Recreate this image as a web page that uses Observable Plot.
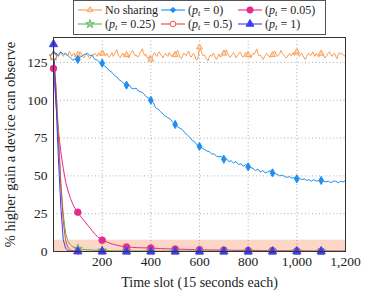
<!DOCTYPE html>
<html><head><meta charset="utf-8">
<script src="https://cdn.jsdelivr.net/npm/d3@7"></script>
<script src="https://cdn.jsdelivr.net/npm/@observablehq/plot@0.6"></script>
<style>
body{margin:0;background:#fff;}
#wrap{position:relative;width:366px;height:296px;font-family:"Liberation Serif",serif;}
#chart{position:absolute;left:0;top:0;}
#legend{position:absolute;left:73px;top:0px;width:253px;height:35px;border:1px solid #555;background:#fff;box-sizing:border-box;font-size:12px;color:#222;}
.item{position:absolute;display:flex;align-items:center;white-space:nowrap;height:14px;}
.item span{margin-left:3px;}
sub{font-size:8.5px;vertical-align:-2px;}
</style></head><body>
<div id="wrap"><div id="chart"></div><div id="legend"></div></div>
<script>
// time slots: fine sampling for the noisy baseline, every 10 slots for the others
const slotsFine = d3.range(0, 1201, 5);
const slots = d3.range(0, 1201, 10);
const xTicks = [200, 400, 600, 800, 1000, 1200];
const xGrid = [200, 400, 600, 800, 1000];
const yTicks = [0, 25, 50, 75, 100, 125];
const yGrid = [25, 50, 75, 100, 125];
const bandTop = 7.5;
const xLabel = "Time slot (15 seconds each)";
const yLabel = "% higher gain a device can observe";

const noSharing = [
129,130.5,131,129.5,130,131.5,132,130,129,130.5,131,129.5,130,132.5,131,129,130.5,131,128.5,129.5,
130,131.5,132,130.5,129,128,129.5,131,130,128.5,127.5,129,130.5,129.5,131,130,129,131.5,130,129.5,
131,132.5,130,129.5,131,129,128.5,130,131.5,129,130,132,133.5,130.5,129,128,130,131,129.5,130.5,
130,129,128,130.5,131.5,133,131,129.5,130,128.5,129,131,132.5,134,131,129.5,130.5,128,127.5,129.5,
127,128.5,130,131.5,130,129,131,132,130,129.5,128,129.5,131,130,129,131.5,130.5,129,130,131,
130,131.5,133,130.5,128.5,127.5,129,131,130.5,129.5,131,132.5,130,128.5,129.5,131,130,127,126.5,129,
135,133,131,129.5,130,128.5,127,126,128.5,130,129,131,130.5,128,127,129,130.5,128.5,129,130,
131,132,133.5,131,130,128.5,129,130.5,131.5,130,128,129.5,130.5,132,131,129,128.5,130,131.5,130.5,
130,129,128,129.5,131,130.5,132,134,131,129.5,130,128.5,127,128,129.5,131,130,129,128.5,129.5,
130,131.5,132.5,130.5,129,130,131,133,131.5,130,129,128,128.5,130,131,129.5,130,131.5,129.5,130.5,
132,130.5,129,130,131,129.5,128,127,129,130.5,131,129.5,130,132,130.5,129,131,129.5,128.5,130,
131,130,129.5,128,128.5,130,131.5,132,130,129,130.5,131,129,127.5,130,131.5,130.5,131,130,129.5,
129];
const pt0 = [
130,131.5,129,132,130.5,131,129.5,128,126.5,127.5,
127,128.5,129.5,130.5,131,129.5,129.5,127,126.5,125,
124.5,122.5,121.5,119.5,118.5,116.5,115.5,113.5,112.5,111,
110,110.5,108,107.5,108,106,105.5,104.5,102.5,101.5,
100,98.5,95,94,92.5,91,89.5,88.5,87.5,85.5,
84,82.5,81.5,80.5,78.5,77,75.5,73.5,72.5,70.5,
69.5,68.5,67.5,66.5,66,64.5,64.5,63,62.5,63,
61,61.5,59.5,60,58.5,59.5,57.5,58,56.5,57.5,
56,55.5,55,53.5,54.5,52.5,53.5,52,52.5,53.5,
52,51.5,51,50,50.5,49.5,49,49.5,48.5,49,
48,48.5,47.5,48,47,47.5,46.5,47.5,46.5,47,
47,46.5,46,46.5,45.5,46.5,46.5,45.5,46.5,46,
47];
const pt005 = [
121,98,80,66,55,46,40,35,31,28,
26,23.5,21.5,19.5,17.5,15.5,13.5,11.5,10,8.5,
7.5,6.8,6.2,5.6,5,4.6,4.2,3.8,3.5,3.2,
3,2.9,2.8,2.7,2.6,2.5,2.5,2.4,2.4,2.3,
2.3,2.2,2.1,2.0,1.9,1.9,1.8,1.8,1.7,1.7,
1.6,1.6,1.5,1.5,1.4,1.4,1.3,1.3,1.2,1.2,
1.2,1.1,1.1,1.1,1.0,1.0,1.0,1.0,0.9,0.9,
0.9,0.9,0.9,0.8,0.8,0.8,0.8,0.8,0.8,0.7,
0.7,0.7,0.7,0.7,0.7,0.6,0.6,0.6,0.6,0.6,
0.6,0.6,0.5,0.5,0.5,0.5,0.5,0.5,0.5,0.4,
0.4,0.4,0.4,0.4,0.4,0.4,0.3,0.3,0.3,0.3,
0.3,0.3,0.3,0.3,0.3,0.2,0.2,0.2,0.2,0.2,
0.2];
const pt025 = [
129,110,80,45,25,12,6.5,4.5,3,2.3,
1.8,1.6,1.4,1.3,1.2,1.1,1.0,0.9,0.8,0.7,
0.6,0.6,0.5,0.5,0.5,0.4,0.4,0.4,0.4,0.3,
0.3,0.3,0.3,0.3,0.3,0.3,0.3,0.3,0.3,0.3,
0.2,0.2,0.2,0.2,0.2,0.2,0.2,0.2,0.2,0.2,
0.2,0.2,0.2,0.2,0.2,0.2,0.2,0.2,0.2,0.2,
0.2,0.2,0.2,0.2,0.2,0.2,0.2,0.2,0.2,0.2,
0.2,0.2,0.2,0.2,0.2,0.2,0.2,0.2,0.2,0.2,
0.2,0.2,0.2,0.2,0.2,0.2,0.2,0.2,0.2,0.2,
0.2,0.2,0.2,0.2,0.2,0.2,0.2,0.2,0.2,0.2,
0.2,0.2,0.2,0.2,0.2,0.2,0.2,0.2,0.2,0.2,
0.2,0.2,0.2,0.2,0.2,0.2,0.2,0.2,0.2,0.2,
0.2];
const pt05 = [
129,108,75,45,20,7,2.5,1,0.5,0.3,
0.2,0.2,0.1,0.1,0.1,0.1,0.1,0.1,0.1,0.1,
0.1,0.1,0.1,0.1,0.1,0.1,0.1,0.1,0.1,0.1,
0.1,0.1,0.1,0.1,0.1,0.1,0.1,0.1,0.1,0.1,
0.1,0.1,0.1,0.1,0.1,0.1,0.1,0.1,0.1,0.1,
0.1,0.1,0.1,0.1,0.1,0.1,0.1,0.1,0.1,0.1,
0.1,0.1,0.1,0.1,0.1,0.1,0.1,0.1,0.1,0.1,
0.1,0.1,0.1,0.1,0.1,0.1,0.1,0.1,0.1,0.1,
0.1,0.1,0.1,0.1,0.1,0.1,0.1,0.1,0.1,0.1,
0.1,0.1,0.1,0.1,0.1,0.1,0.1,0.1,0.1,0.1,
0.1,0.1,0.1,0.1,0.1,0.1,0.1,0.1,0.1,0.1,
0.1,0.1,0.1,0.1,0.1,0.1,0.1,0.1,0.1,0.1,
0.1];
const pt1 = [
137,100,62,30,8,2,0.5,0.2,0.1,0,
0,0,0,0,0,0,0,0,0,0,
0,0,0,0,0,0,0,0,0,0,
0,0,0,0,0,0,0,0,0,0,
0,0,0,0,0,0,0,0,0,0,
0,0,0,0,0,0,0,0,0,0,
0,0,0,0,0,0,0,0,0,0,
0,0,0,0,0,0,0,0,0,0,
0,0,0,0,0,0,0,0,0,0,
0,0,0,0,0,0,0,0,0,0,
0,0,0,0,0,0,0,0,0,0,
0,0,0,0,0,0,0,0,0,0,
0];

const seriesLabels = ["No sharing", "0", "0.05", "0.25", "0.5", "1"];
const seriesValues = [noSharing, pt0, pt005, pt025, pt05, pt1];
const seriesSlots = [slotsFine, slots, slots, slots, slots, slots];
const seriesColors = ["#fb9a50", "#1f8ef0", "#e7298a", "#5cb85c", "#e8453c", "#3c3cf5"];
const seriesFills = ["#fdd3b0", "#1f8ef0", "#e7298a", "#9ad89a", "#ffffff", "#3c3cf5"];
const seriesSymbols = ["triangle", "diamond", "circle", "star", "circle", "triangle"];
const seriesR = [2.2, 2.5, 3.3, 2.8, 3.0, 3.1];

const band = [{x1: 0, x2: 1200, y1: 0, y2: bandTop}];

const marks = [
  Plot.rect(band, {x1: "x1", x2: "x2", y1: "y1", y2: "y2", fill: "#fcd6c6"}),
  Plot.ruleX(xGrid, {stroke: "#999", strokeDasharray: "1,2.5", strokeWidth: 0.8}),
  Plot.ruleY(yGrid, {stroke: "#999", strokeDasharray: "1,2.5", strokeWidth: 0.8})
];
seriesValues.forEach((vals, k) => {
  const rows = seriesSlots[k].map((t, i) => ({t, v: vals[i]}));
  marks.push(Plot.line(rows, {x: "t", y: "v", stroke: seriesColors[k], strokeWidth: 1}));
});
seriesValues.forEach((vals, k) => {
  const rows = seriesSlots[k].map((t, i) => ({t, v: vals[i]})).filter(d => d.t % 100 === 0 && d.t <= 1100);
  marks.push(Plot.dot(rows, {x: "t", y: "v", symbol: seriesSymbols[k], r: seriesR[k],
    fill: seriesFills[k], stroke: seriesColors[k], strokeWidth: 0.9}));
});
marks.push(Plot.frame({stroke: "#333", strokeWidth: 1}));
marks.push(Plot.text([xLabel], {text: d => d, frameAnchor: "bottom", textAnchor: "middle", dy: 35, fontSize: 14, fill: "#222"}));
marks.push(Plot.text([yLabel], {text: d => d, frameAnchor: "left", textAnchor: "middle", rotate: -90, dx: -43, fontSize: 14.5, fill: "#222"}));

const chart = Plot.plot({
  width: 366, height: 296,
  marginLeft: 53, marginRight: 21, marginTop: 37, marginBottom: 45,
  style: {fontFamily: "Liberation Serif", fontSize: "13.5px", color: "#222", background: "transparent"},
  x: {domain: [0, 1200], ticks: xTicks, tickFormat: d3.format(","), tickSize: 0, tickPadding: 5, label: null},
  y: {domain: [0, 141.5], ticks: yTicks, tickSize: 0, tickPadding: 6, label: null},
  marks
});
document.getElementById("chart").appendChild(chart);

// legend
const legend = document.getElementById("legend");
const legendPos = [[4, 2], [87, 2], [164, 2], [4, 16], [87, 16], [164, 16]];
[0, 1, 2, 3, 4, 5].forEach((k, j) => {
  const [lx, ly] = legendPos[j];
  const item = document.createElement("div");
  item.className = "item";
  item.style.left = lx + "px";
  item.style.top = ly + "px";
  const sym = d3.symbol(
    {triangle: d3.symbolTriangle, diamond: d3.symbolDiamond2, circle: d3.symbolCircle, star: d3.symbolStar}[seriesSymbols[k]],
    Math.PI * seriesR[k] * seriesR[k] * 0.9)();
  item.innerHTML = `<svg width="24" height="12"><line x1="0" x2="24" y1="6" y2="6" stroke="${seriesColors[k]}" stroke-width="1.1"/>` +
    `<path transform="translate(12,6)" d="${sym}" fill="${seriesFills[k]}" stroke="${seriesColors[k]}" stroke-width="0.9"/></svg>` +
    (k === 0 ? `<span>${seriesLabels[k]}</span>` : `<span>(<i>p</i><sub><i>t</i></sub> = ${seriesLabels[k]})</span>`);
  legend.appendChild(item);
});
</script>
</body></html>
